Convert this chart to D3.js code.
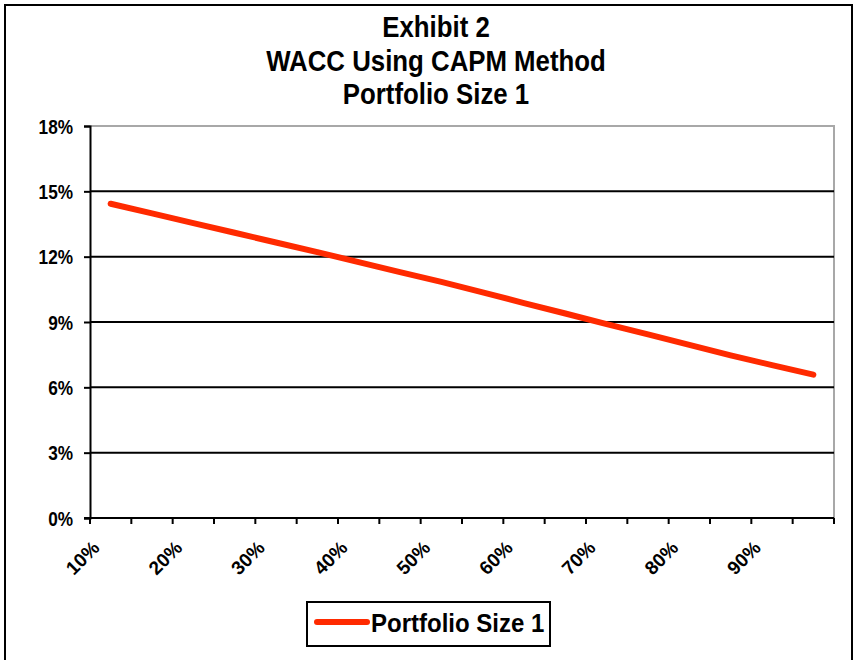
<!DOCTYPE html>
<html>
<head>
<meta charset="utf-8">
<script src="https://cdn.jsdelivr.net/npm/d3@7"></script>
<style>
  html, body { margin: 0; padding: 0; background: #fff; }
  svg { display: block; }
  text { font-family: "Liberation Sans", Arial, sans-serif; font-weight: bold; fill: #000; }
</style>
</head>
<body>
<script>
// Debt-to-capital ratios along the category axis (18 steps of 5%)
const categories = ["10%","15%","20%","25%","30%","35%","40%","45%","50%","55%","60%","65%","70%","75%","80%","85%","90%","95%"];
// Labels printed on the category axis (every other category)
const xTickLabels = ["10%","20%","30%","40%","50%","60%","70%","80%","90%"];
// WACC for Portfolio Size 1, in percent
const waccSize1 = [14.43,13.99,13.54,13.10,12.65,12.21,11.75,11.29,10.84,10.36,9.87,9.39,8.90,8.43,7.95,7.47,7.02,6.58];
// Value axis ticks, in percent
const yTicks = [0,3,6,9,12,15,18];
const titleLines = ["Exhibit 2","WACC Using CAPM Method","Portfolio Size 1"];
const seriesName = "Portfolio Size 1";

const W = 856, H = 660;
const plot = {left: 90, right: 834, top: 126, bottom: 518};
const lineColor = "#ff2a00";

const svg = d3.select("body").append("svg").attr("width", W).attr("height", H);

// chart frame
svg.append("rect").attr("x", 5).attr("y", 5).attr("width", 847).attr("height", 700)
  .attr("fill", "#fff").attr("stroke", "#000").attr("stroke-width", 2);

// titles (condensed bold)
svg.selectAll("text.title").data(titleLines).enter().append("text")
  .attr("class", "title")
  .attr("transform", (d, i) => `translate(436,${37 + i * 33.5}) scale(0.89,1)`)
  .attr("text-anchor", "middle").attr("font-size", 29).text(d => d);

const x = d3.scaleBand().domain(categories).range([plot.left, plot.right]).paddingInner(0).paddingOuter(0);
const y = d3.scaleLinear().domain([0, 18]).range([plot.bottom, plot.top]);

// plot area border (top/right in grey)
svg.append("path")
  .attr("d", `M${plot.left},${plot.top}H${plot.right}V${plot.bottom}`)
  .attr("fill", "none").attr("stroke", "#a8a8a8").attr("stroke-width", 2);

// horizontal gridlines
svg.append("g").selectAll("line").data(yTicks.filter(t => t > 0 && t < 18)).enter().append("line")
  .attr("x1", plot.left).attr("x2", plot.right)
  .attr("y1", d => y(d)).attr("y2", d => y(d))
  .attr("stroke", "#000").attr("stroke-width", 2);

// value axis: line and ticks from d3.axisLeft, labels drawn condensed
const yAxis = d3.axisLeft(y).tickValues(yTicks).tickFormat("").tickSize(6);
const gy = svg.append("g").attr("transform", `translate(${plot.left},0)`).call(yAxis);
gy.select(".domain").attr("stroke", "#000").attr("stroke-width", 2);
gy.selectAll(".tick line").attr("stroke", "#000").attr("stroke-width", 2);
svg.append("g").selectAll("text").data(yTicks).enter().append("text")
  .attr("transform", d => `translate(73,${y(d)}) scale(0.82,1)`)
  .attr("text-anchor", "end").attr("dy", "0.36em").attr("font-size", 21)
  .text(d => d + "%");

// category axis: ticks on category boundaries
const boundaries = categories.map(c => x(c)).concat([plot.right]);
const gx = svg.append("g");
gx.append("line").attr("x1", plot.left - 6).attr("x2", plot.right)
  .attr("y1", plot.bottom).attr("y2", plot.bottom).attr("stroke", "#000").attr("stroke-width", 2);
gx.selectAll("line.tk").data(boundaries).enter().append("line").attr("class", "tk")
  .attr("x1", d => d).attr("x2", d => d).attr("y1", plot.bottom).attr("y2", plot.bottom + 6)
  .attr("stroke", "#000").attr("stroke-width", 2);
gx.selectAll("text").data(xTickLabels).enter().append("text")
  .attr("font-size", 19)
  .attr("text-anchor", "end")
  .attr("transform", d => `translate(${x(d) + x.bandwidth() / 2 - 10},${plot.bottom + 31}) rotate(-45)`)
  .text(d => d);

// WACC line
const line = d3.line().x((d, i) => x(categories[i]) + x.bandwidth() / 2).y(d => y(d));
svg.append("path").datum(waccSize1).attr("d", line)
  .attr("fill", "none").attr("stroke", lineColor).attr("stroke-width", 6)
  .attr("stroke-linecap", "round").attr("stroke-linejoin", "round");

// legend
const lg = svg.append("g").attr("class", "legend");
lg.append("rect").attr("x", 307).attr("y", 602).attr("width", 243).attr("height", 44)
  .attr("fill", "#fff").attr("stroke", "#000").attr("stroke-width", 2);
lg.append("line").attr("x1", 317).attr("x2", 367).attr("y1", 622).attr("y2", 622)
  .attr("stroke", lineColor).attr("stroke-width", 6).attr("stroke-linecap", "round");
lg.append("text").attr("transform", "translate(371,632) scale(0.96,1)")
  .attr("font-size", 25).text(seriesName);
</script>
</body>
</html>
